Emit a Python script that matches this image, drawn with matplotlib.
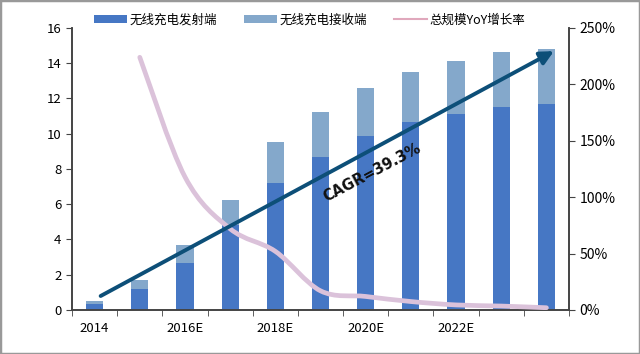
import numpy as np
import matplotlib
matplotlib.use("Agg")
import matplotlib.pyplot as plt
from matplotlib.path import Path
from matplotlib.patches import PathPatch, Rectangle

plt.rcParams['font.family'] = ['Noto Sans CJK SC', 'DejaVu Sans']

years = ['2014', '2015E', '2016E', '2017E', '2018E', '2019E',
         '2020E', '2021E', '2022E', '2023E', '2024E']
tick_labels = ['2014', '', '2016E', '', '2018E', '', '2020E', '', '2022E', '', '']
transmit = [0.33, 1.20, 2.67, 4.80, 7.20, 8.67, 9.87, 10.67, 11.14, 11.52, 11.66]
receive = [0.18, 0.51, 1.04, 1.45, 2.32, 2.57, 2.70, 2.82, 2.99, 3.11, 3.16]
yoy = [np.nan, 224, 118, 72, 52, 17, 12, 7.5, 4.5, 3.5, 2]
cagr_label = 'CAGR=39.3%'

c_dark = '#4677c4'
c_light = '#84a8cb'
c_line = '#dbc2da'
c_arrow = '#0d4f78'

fig = plt.figure(figsize=(6.4, 3.54), dpi=100)
ax = fig.add_axes([0.1125, 0.1243, 0.7766, 0.7967])
ax2 = ax.twinx()

x = np.arange(len(years))
ax.bar(x, transmit, width=0.38, color=c_dark, label='无线充电发射端', zorder=2)
ax.bar(x, receive, width=0.38, bottom=transmit, color=c_light,
       label='无线充电接收端', zorder=2)

# smoothed YoY line (bezier through the points, like excel smoothing)
pts = [(i, v) for i, v in zip(x, yoy) if not np.isnan(v)]
pts = np.array(pts, dtype=float)
verts = [pts[0]]
codes = [Path.MOVETO]
n = len(pts)
for i in range(n - 1):
    p0 = pts[max(i - 1, 0)]
    p1 = pts[i]
    p2 = pts[i + 1]
    p3 = pts[min(i + 2, n - 1)]
    c1 = p1 + (p2 - p0) / 6
    c2 = p2 - (p3 - p1) / 6
    verts += [c1, c2, p2]
    codes += [Path.CURVE4] * 3
path = Path(verts, codes)
ax2.add_patch(PathPatch(path, facecolor='none', edgecolor=c_line, lw=3.4,
                        capstyle='round', zorder=3))
ax2.plot([], [], color='#e0a8bc', lw=1.5, label='总规模YoY增长率')

ax.set_xlim(-0.5, len(years) - 0.5)
ax.set_ylim(0, 16)
ax2.set_ylim(0, 250)
ax.set_yticks(range(0, 17, 2))
ax2.set_yticks(range(0, 251, 50))
ax2.set_yticklabels([f'{v}%' for v in range(0, 251, 50)])

ax.set_xticks(x)
ax.set_xticklabels(tick_labels)
ax.set_xticks(np.arange(-0.5, len(years)), minor=True)
ax.tick_params(axis='x', which='major', length=0, pad=9, labelsize=9.5)
ax.tick_params(axis='x', which='minor', length=4, direction='out', color='#444')
ax.tick_params(axis='y', length=4, direction='out', color='#444', labelsize=9.5)
ax2.tick_params(axis='y', length=4, direction='out', color='#444', labelsize=10)

for a in (ax, ax2):
    a.spines['top'].set_visible(False)
    for s in ('left', 'right', 'bottom'):
        a.spines[s].set_color('#444')
        a.spines[s].set_linewidth(1.2)

# CAGR arrow
ax2.annotate('', xy=(10.22, 14.76), xytext=(0.08, 0.72),
             xycoords=ax.transData, textcoords=ax.transData,
             arrowprops=dict(arrowstyle='-|>,head_length=0.8,head_width=0.4',
                             color=c_arrow, lw=2.8), zorder=5)
ax2.text(6.15, 7.8, cagr_label, transform=ax.transData, rotation=28,
         ha='center', va='center', fontsize=10.5, fontweight='bold',
         color='#111', zorder=6, family=['DejaVu Sans'])

h1, l1 = ax.get_legend_handles_labels()
h2, l2 = ax2.get_legend_handles_labels()
fig.legend(h1 + h2, l1 + l2, loc='center', bbox_to_anchor=(0.484, 0.943),
           ncol=3, frameon=False, fontsize=9, handlelength=2.6,
           handleheight=0.6, columnspacing=2.2, handletextpad=0.2)

fig.patches.append(Rectangle((0, 0), 1, 1, transform=fig.transFigure,
                             fill=False, edgecolor='#999', lw=2.5))

fig.savefig('out.png', dpi=100)
